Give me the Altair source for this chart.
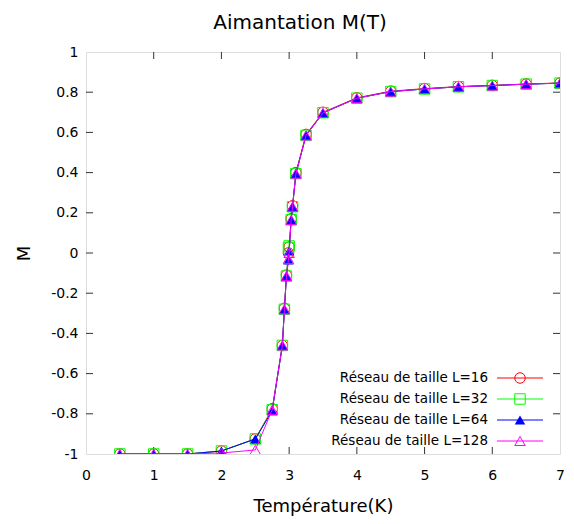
import altair as alt
import pandas as pd

# ---- data ----
T = [0.5, 1.0, 1.5, 2.0, 2.5, 2.75, 2.9, 2.93, 2.96, 2.99, 3.0, 3.03, 3.05, 3.1,
     3.25, 3.5, 4.0, 4.5, 5.0, 5.5, 6.0, 6.5, 7.0]
M16 = [-1, -1, -1, -0.985, -0.925, -0.775, -0.46, -0.275, -0.11, 0.0, 0.03, 0.17,
       0.235, 0.40, 0.59, 0.70, 0.772, 0.805, 0.818, 0.828, 0.834, 0.841, 0.846]
M32 = [-1, -1, -1, -0.985, -0.925, -0.78, -0.46, -0.28, -0.115, 0.025, 0.035, 0.165,
       0.23, 0.395, 0.585, 0.698, 0.77, 0.803, 0.816, 0.827, 0.833, 0.84, 0.845]
M64 = [-1, -1, -1, -0.985, -0.925, -0.785, -0.46, -0.28, -0.115, -0.035, 0.01, 0.165,
       0.23, 0.395, 0.585, 0.697, 0.77, 0.803, 0.816, 0.827, 0.833, 0.84, 0.845]
M128 = [-1, -1, -1, -0.995, -0.98, -0.78, -0.46, -0.28, -0.115, -0.03, 0.0, 0.165,
        0.23, 0.395, 0.585, 0.697, 0.77, 0.803, 0.816, 0.827, 0.833, 0.84, 0.845]

series_names = ["Réseau de taille L=16", "Réseau de taille L=32",
                "Réseau de taille L=64", "Réseau de taille L=128"]
series_values = [M16, M32, M64, M128]
series_colors = ["#ff0000", "#00ff00", "#0000ff", "#ff00ff"]
series_shapes = ["circle", "square", "triangle-up", "triangle-up"]
series_filled = [False, False, True, False]

x_ticks = [0, 1, 2, 3, 4, 5, 6, 7]
y_ticks = [-1, -0.8, -0.6, -0.4, -0.2, 0, 0.2, 0.4, 0.6, 0.8, 1]

FONT = "DejaVu Sans"
BORDER = "#333333"
W, H = 474, 402

xscale = alt.Scale(domain=[0, 7], nice=False, zero=False)
yscale = alt.Scale(domain=[-1, 1], nice=False, zero=False)

x_axis = alt.Axis(values=x_ticks, title="Température(K)", ticks=False, tickSize=0,
                  domain=False, grid=False, labelFont=FONT, labelFontSize=14,
                  labelColor="black", labelPadding=14, labelFlush=False,
                  labelOverlap=False, titleFont=FONT, titleFontSize=18,
                  titleFontWeight="normal", titleColor="black", titleY=57,
                  titleBaseline="alphabetic")
y_axis = alt.Axis(values=y_ticks, title="M", ticks=False, tickSize=0, domain=False,
                  grid=False, labelFont=FONT, labelFontSize=14, labelColor="black",
                  labelPadding=8, labelExpr="'' + datum.value", labelOverlap=False,
                  labelFlush=False, titleFont=FONT, titleFontSize=18,
                  titleFontWeight="normal", titleColor="black", titleX=-62,
                  titleY=H / 2, titleAngle=270, titleBaseline="middle",
                  titleAlign="center")

X = alt.X("T:Q", scale=xscale, axis=x_axis)
Y = alt.Y("M:Q", scale=yscale, axis=y_axis)

layers = []

# inward tick marks on all four sides (gnuplot style)
xt = pd.DataFrame({"v": x_ticks[1:-1]})
yt = pd.DataFrame({"v": y_ticks[1:-1]})
TL = 7
layers.append(alt.Chart(xt).mark_rule(color=BORDER, strokeWidth=1).encode(
    x=alt.X("v:Q", scale=xscale, axis=x_axis), y=alt.value(H), y2=alt.value(H - TL)))
layers.append(alt.Chart(xt).mark_rule(color=BORDER, strokeWidth=1).encode(
    x=alt.X("v:Q", scale=xscale, axis=x_axis), y=alt.value(0), y2=alt.value(TL)))
layers.append(alt.Chart(yt).mark_rule(color=BORDER, strokeWidth=1).encode(
    y=alt.Y("v:Q", scale=yscale, axis=y_axis), x=alt.value(0), x2=alt.value(TL)))
layers.append(alt.Chart(yt).mark_rule(color=BORDER, strokeWidth=1).encode(
    y=alt.Y("v:Q", scale=yscale, axis=y_axis), x=alt.value(W), x2=alt.value(W - TL)))

for name, vals, color, shape, filled in zip(series_names, series_values,
                                           series_colors, series_shapes,
                                           series_filled):
    df = pd.DataFrame({"T": T, "M": vals})
    base = alt.Chart(df)
    layers.append(base.mark_line(color=color, strokeWidth=1, clip=True).encode(x=X, y=Y))
    layers.append(base.mark_point(shape=shape, filled=filled, color=color, size=110,
                                  strokeWidth=1, opacity=1, clip=True).encode(x=X, y=Y))

# legend (gnuplot style: label on the left, sample on the right)
one = pd.DataFrame({"a": [0]})
LEG_TEXT_X, LEG_L0, LEG_L1, LEG_Y0, LEG_DY = W - 72, W - 63, W - 17, 326, 21
for i, (name, color, shape, filled) in enumerate(zip(series_names, series_colors,
                                                    series_shapes, series_filled)):
    yy = LEG_Y0 + LEG_DY * i
    layers.append(alt.Chart(one).mark_text(align="right", baseline="middle", font=FONT,
                                           fontSize=13.5, color="black").encode(
        x=alt.value(LEG_TEXT_X), y=alt.value(yy), text=alt.value(name)))
    layers.append(alt.Chart(one).mark_rule(color=color, strokeWidth=1).encode(
        x=alt.value(LEG_L0), x2=alt.value(LEG_L1), y=alt.value(yy)))
    layers.append(alt.Chart(one).mark_point(shape=shape, filled=filled, color=color,
                                            size=110, strokeWidth=1, opacity=1).encode(
        x=alt.value((LEG_L0 + LEG_L1) / 2), y=alt.value(yy)))

chart = alt.layer(*layers).properties(
    width=W, height=H,
    title=alt.TitleParams("Aimantation M(T)", font=FONT, fontSize=20,
                          fontWeight="normal", color="black", offset=12, dx=-23,
                          anchor="middle"),
    autosize=alt.AutoSizeParams(type="none"),
    padding={"left": 78, "top": 44, "right": 6, "bottom": 62},
).configure_view(stroke=BORDER, strokeWidth=1).configure(background="white")

chart.save("out.html", embed_options={"renderer": "svg", "actions": False})
